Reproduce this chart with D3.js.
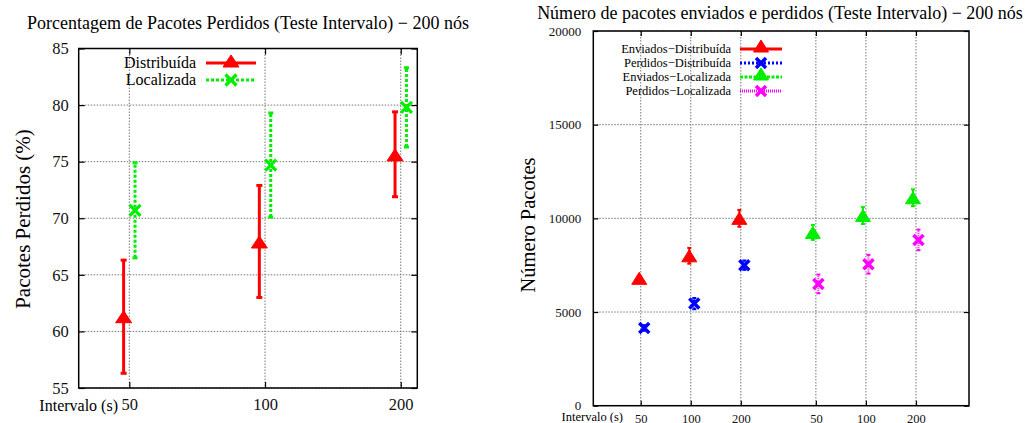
<!DOCTYPE html>
<html>
<head>
<meta charset="utf-8">
<script src="https://cdn.jsdelivr.net/npm/d3@7"></script>
<style>
  body { margin: 0; background: #fff; }
  svg { display: block; font-family: "Liberation Serif", "DejaVu Serif", serif; }
  .grid line { stroke: #777; stroke-width: 1; stroke-dasharray: 1.5,1.5; }
  .axis path { display: none; }
  .axis line { stroke: #000; stroke-width: 1.2; }
  .axis text { fill: #111; font-family: "Liberation Serif", "DejaVu Serif", serif; }
</style>
</head>
<body>
<svg id="chart" width="1030" height="423"></svg>
<script>
// ---- left chart: % lost packets ----
const intervals = ["50", "100", "200"];
const distMean = [61.3, 67.9, 75.6];
const distLow = [56.3, 63.0, 71.9];
const distHigh = [66.3, 72.9, 79.4];
const locMean = [70.7, 74.7, 79.8];
const locLow = [66.5, 70.1, 76.3];
const locHigh = [74.9, 79.3, 83.3];
const pctTicks = [55, 60, 65, 70, 75, 80, 85];

// ---- right chart: packets sent / lost ----
const groupPos = [1, 2, 3, 4.5, 5.5, 6.5];
const groupLabels = ["50", "100", "200", "50", "100", "200"];
const sentDist = [6800, 8000, 10000];
const sentDistErr = [100, 420, 450];
const lostDist = [4150, 5450, 7500];
const lostDistErr = [150, 300, 250];
const sentLoc = [9250, 10150, 11100];
const sentLocErr = [400, 450, 450];
const lostLoc = [6500, 7550, 8850];
const lostLocErr = [500, 500, 550];
const countTicks = [0, 5000, 10000, 15000, 20000];

const svg = d3.select("#chart");
svg.append("rect").attr("width", 1030).attr("height", 423).attr("fill", "#fff");

const RED = "#ff0000", GREEN = "#00ee00", BLUE = "#0000ff", MAG = "#ff00ff";

function triangle(g, x, y, color, w, h) {
  g.append("path")
    .attr("d", `M${x - w / 2},${y + h / 2}L${x + w / 2},${y + h / 2}L${x},${y - h / 2}Z`)
    .attr("fill", color).attr("stroke", color).attr("stroke-width", 1);
}
function cross(g, x, y, color, s, sw) {
  g.append("path")
    .attr("d", `M${x - s},${y - s}L${x + s},${y + s}M${x - s},${y + s}L${x + s},${y - s}`)
    .attr("stroke", color).attr("stroke-width", sw).attr("fill", "none");
}
function errBar(g, x, y0, y1, color, sw, dash, cap) {
  g.append("line").attr("x1", x).attr("x2", x).attr("y1", y0).attr("y2", y1)
    .attr("stroke", color).attr("stroke-width", sw).attr("stroke-dasharray", dash);
  [y0, y1].forEach(yy => g.append("line")
    .attr("x1", x - cap / 2).attr("x2", x + cap / 2).attr("y1", yy).attr("y2", yy)
    .attr("stroke", color).attr("stroke-width", sw));
}

function frame(g, x, y, xTickVals, yTickVals, tick) {
  const [x0, x1] = x.range(), [y0, y1] = y.range();
  const grid = g.append("g").attr("class", "grid");
  grid.selectAll(".gx").data(xTickVals).join("line")
    .attr("x1", d => x(d)).attr("x2", d => x(d)).attr("y1", y1).attr("y2", y0);
  grid.selectAll(".gy").data(yTickVals).join("line")
    .attr("x1", x0).attr("x2", x1).attr("y1", d => y(d)).attr("y2", d => y(d));
  g.append("g").attr("class", "axis").attr("transform", `translate(0,${y1})`)
    .call(d3.axisTop(x).tickValues(xTickVals).tickSize(-tick).tickFormat(""));
  g.append("g").attr("class", "axis").attr("transform", `translate(${x1},0)`)
    .call(d3.axisRight(y).tickValues(yTickVals).tickSize(-tick).tickFormat(""));
  g.append("rect").attr("x", x0).attr("y", y1).attr("width", x1 - x0).attr("height", y0 - y1)
    .attr("fill", "none").attr("stroke", "#000").attr("stroke-width", 1.5);
}

// ================= LEFT =================
{
  const x = d3.scaleLinear().domain([0.627, 3.122]).range([78.7, 417.3]);
  const y = d3.scaleLinear().domain([55, 85]).range([388, 48.5]);
  const g = svg.append("g");
  const pos = intervals.map((d, i) => i + 1);
  frame(g, x, y, pos, pctTicks, 6);

  g.append("g").attr("class", "axis").attr("transform", "translate(78.7,0)")
    .call(d3.axisLeft(y).tickValues(pctTicks).tickSize(-6).tickPadding(10))
    .selectAll("text").style("font-size", "16.5px");
  g.append("g").attr("class", "axis").attr("transform", "translate(0,388)")
    .call(d3.axisBottom(x).tickValues(pos).tickSize(-6).tickPadding(10)
      .tickFormat((d, i) => intervals[i]))
    .selectAll("text").style("font-size", "16.5px");

  g.append("text").attr("x", 118).attr("y", 411).attr("text-anchor", "end")
    .style("font-size", "16px").text("Intervalo (s)");
  g.append("text").attr("x", 248).attr("y", 29).attr("text-anchor", "middle")
    .style("font-size", "18px").text("Porcentagem de Pacotes Perdidos (Teste Intervalo) \u2212 200 nós");
  g.append("text").attr("transform", "translate(30,219) rotate(-90)").attr("text-anchor", "middle")
    .style("font-size", "21px").text("Pacotes Perdidos (%)");

  const marks = g.append("g");
  pos.forEach((p, i) => {
    const xd = x(p - 0.042), xl = x(p + 0.042);
    errBar(marks, xd, y(distLow[i]), y(distHigh[i]), RED, 3, null, 6);
    triangle(marks, xd, y(distMean[i]), RED, 16, 12);
    errBar(marks, xl, y(locLow[i]), y(locHigh[i]), GREEN, 3, "3,2", 5);
    cross(marks, xl, y(locMean[i]), GREEN, 5.5, 3.2);
  });

  // legend
  const leg = [
    { label: "Distribuída", color: RED, dash: null, mark: "tri", yy: 63 },
    { label: "Localizada", color: GREEN, dash: "3,2", mark: "x", yy: 80 }
  ];
  leg.forEach(d => {
    g.append("text").attr("x", 196).attr("y", d.yy + 5).attr("text-anchor", "end")
      .style("font-size", "16px").text(d.label);
    g.append("line").attr("x1", 206).attr("x2", 256).attr("y1", d.yy).attr("y2", d.yy)
      .attr("stroke", d.color).attr("stroke-width", 3).attr("stroke-dasharray", d.dash);
    if (d.mark === "tri") triangle(g, 231, d.yy - 2, d.color, 16, 12);
    else cross(g, 231, d.yy, d.color, 5.5, 3.2);
  });
}

// ================= RIGHT =================
{
  const x = d3.scaleLinear().domain([0.052, 7.56]).range([593.3, 969]);
  const y = d3.scaleLinear().domain([0, 20000]).range([405.7, 31]);
  const g = svg.append("g");
  frame(g, x, y, groupPos, countTicks, 5);

  g.append("g").attr("class", "axis").attr("transform", "translate(593.3,0)")
    .call(d3.axisLeft(y).tickValues(countTicks).tickSize(-5).tickPadding(12).tickFormat(d3.format("d")))
    .selectAll("text").style("font-size", "13px");
  g.append("g").attr("class", "axis").attr("transform", "translate(0,405.7)")
    .call(d3.axisBottom(x).tickValues(groupPos).tickSize(-5).tickPadding(8)
      .tickFormat((d, i) => groupLabels[i]))
    .selectAll("text").style("font-size", "12.5px");

  g.append("text").attr("x", 623).attr("y", 421).attr("text-anchor", "end")
    .style("font-size", "12.5px").text("Intervalo (s)");
  g.append("text").attr("x", 780).attr("y", 19).attr("text-anchor", "middle")
    .style("font-size", "18px").text("Número de pacotes enviados e perdidos (Teste Intervalo) \u2212 200 nós");
  g.append("text").attr("transform", "translate(535,225) rotate(-90)").attr("text-anchor", "middle")
    .style("font-size", "20.5px").text("Número Pacotes");

  const series = [
    { pos: groupPos.slice(0, 3), vals: sentDist, err: sentDistErr, color: RED, dash: null, mark: "tri", off: -0.03 },
    { pos: groupPos.slice(0, 3), vals: lostDist, err: lostDistErr, color: BLUE, dash: "2,2", mark: "x", off: 0.07 },
    { pos: groupPos.slice(3), vals: sentLoc, err: sentLocErr, color: GREEN, dash: "3,1.5", mark: "tri", off: -0.06 },
    { pos: groupPos.slice(3), vals: lostLoc, err: lostLocErr, color: MAG, dash: "1,1", mark: "x", off: 0.05 }
  ];
  const marks = g.append("g");
  series.forEach(s => {
    s.vals.forEach((v, i) => {
      const px = x(s.pos[i] + s.off);
      errBar(marks, px, y(v - s.err[i]), y(v + s.err[i]), s.color, 2, s.dash, 4);
      if (s.mark === "tri") triangle(marks, px, y(v), s.color, 15, 12);
      else cross(marks, px, y(v), s.color, 5, 3.5);
    });
  });

  const labels = ["Enviados\u2212Distribuída", "Perdidos\u2212Distribuída", "Enviados\u2212Localizada", "Perdidos\u2212Localizada"];
  const rowsY = [49, 63, 77, 91];
  series.forEach((s, i) => {
    const yy = rowsY[i];
    g.append("text").attr("x", 731).attr("y", yy + 4).attr("text-anchor", "end")
      .style("font-size", "12.5px").text(labels[i]);
    g.append("line").attr("x1", 740).attr("x2", 782).attr("y1", yy).attr("y2", yy)
      .attr("stroke", s.color).attr("stroke-width", 3).attr("stroke-dasharray", s.dash);
    if (s.mark === "tri") triangle(g, 761, yy - 3, s.color, 15, 12);
    else cross(g, 761, yy, s.color, 5, 3.5);
  });
}
</script>
</body>
</html>
